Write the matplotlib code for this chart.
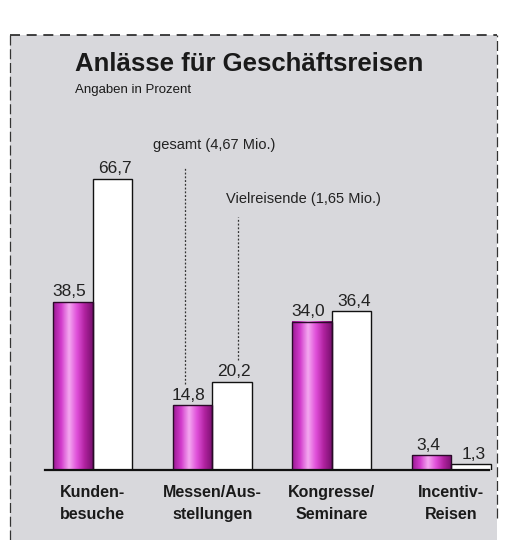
import matplotlib.pyplot as plt
import numpy as np
from matplotlib.colors import LinearSegmentedColormap
from matplotlib.patches import Rectangle

plt.rcParams["font.family"] = ["Liberation Sans", "DejaVu Sans"]

categories = ["Kunden-\nbesuche", "Messen/Aus-\nstellungen", "Kongresse/\nSeminare", "Incentiv-\nReisen"]
gesamt = [38.5, 14.8, 34.0, 3.4]
vielreisende = [66.7, 20.2, 36.4, 1.3]
gesamt_labels = ["38,5", "14,8", "34,0", "3,4"]
viel_labels = ["66,7", "20,2", "36,4", "1,3"]

W, H = 524, 540
fig = plt.figure(figsize=(W / 100, H / 100), dpi=100)
fig.patch.set_facecolor("white")

# grey panel behind the chart
panel = Rectangle((10 / W, 0), 487 / W, 1 - 35 / H, transform=fig.transFigure,
                  facecolor="#d8d8dc", edgecolor="none", zorder=-10)
fig.patches.append(panel)
fig.add_artist(plt.Line2D([10 / W, 497 / W], [1 - 35 / H, 1 - 35 / H], transform=fig.transFigure,
                          color="#222222", lw=1.2, ls=(0, (6, 4)), zorder=-5))
fig.add_artist(plt.Line2D([10 / W, 10 / W], [0, 1 - 35 / H], transform=fig.transFigure,
                          color="#333333", lw=0.9, ls=(0, (8, 3)), zorder=-5))
fig.add_artist(plt.Line2D([497 / W, 497 / W], [0.04, 1 - 35 / H], transform=fig.transFigure,
                          color="#333333", lw=0.9, ls=(0, (8, 3)), zorder=-5))

fig.text(75 / W, 1 - 64 / H, "Anlässe für Geschäftsreisen", fontsize=18.5, fontweight="bold",
         color="#1a1a1a", va="center", ha="left")
fig.text(75 / W, 1 - 90 / H, "Angaben in Prozent", fontsize=9.5, color="#1a1a1a",
         va="center", ha="left")

# axes: baseline at y=470 px, 4.36 px per percent
base_px = 470
ax = fig.add_axes([33 / W, (H - base_px) / H, 478 / W, 349 / H])
ax.axis("off")
ax.patch.set_alpha(0)

x = np.arange(len(categories))
w = 0.33
magenta = LinearSegmentedColormap.from_list(
    "mag", ["#9c1a94", "#d23ccc", "#f4a8f0", "#e050da", "#b0229f", "#7a1070"])
grad = np.linspace(0, 1, 64).reshape(1, -1)

for i in x:
    xl = i - w
    ax.imshow(grad, cmap=magenta, aspect="auto", extent=(xl, xl + w, 0, gesamt[i]),
              zorder=2, interpolation="bilinear")
    ax.add_patch(Rectangle((xl, 0), w, gesamt[i], fill=False, edgecolor="#2a0a28", lw=1.0, zorder=3))
    ax.bar(i + w / 2, vielreisende[i], width=w, color="white", edgecolor="#111111", lw=1.0, zorder=2)
    ax.text(i - w / 2 - 0.03, gesamt[i] + 0.6, gesamt_labels[i], ha="center", va="bottom",
            fontsize=12.5, color="#222222", zorder=4)
    ax.text(i + w / 2 + 0.02, vielreisende[i] + 0.6, viel_labels[i], ha="center", va="bottom",
            fontsize=12.5, color="#222222", zorder=4)
    ax.text(i, -3.5, categories[i], ha="center", va="top", fontsize=11.5, fontweight="bold",
            color="#1a1a1a", linespacing=1.55)

ax.plot([-0.5 + 0.1, 3.5 - 0.18], [0, 0], color="#111111", lw=1.6, zorder=4, clip_on=False)

# leader lines for the legend labels
ax.plot([1 - w / 2 - 0.06, 1 - w / 2 - 0.06], [gesamt[1] + 5, 69.5], color="#333333", lw=0.9,
        ls=(0, (1.5, 1.5)), zorder=1)
ax.text(1 - w / 2 - 0.33, 73, "gesamt (4,67 Mio.)", fontsize=10.5, color="#222222",
        ha="left", va="bottom")
ax.plot([1 + w / 2 + 0.05, 1 + w / 2 + 0.05], [vielreisende[1] + 5, 58], color="#333333", lw=0.9,
        ls=(0, (1.5, 1.5)), zorder=1)
ax.text(1 + w / 2 - 0.05, 60.5, "Vielreisende (1,65 Mio.)", fontsize=10.5, color="#222222",
        ha="left", va="bottom")

ax.set_xlim(-0.5, 3.5)
ax.set_ylim(0, 80)

fig.savefig("out.png", dpi=100)
